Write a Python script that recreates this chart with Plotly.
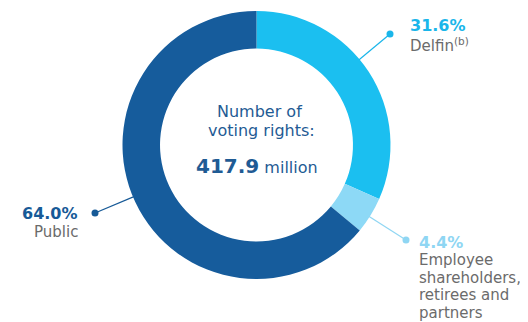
import math
import plotly.graph_objects as go

# ---- data ----
segments = ["Delfin", "Employee shareholders, retirees and partners", "Public"]
shares = [31.6, 4.4, 64.0]
pct_labels = ["31.6%", "4.4%", "64.0%"]
name_lines = [["Delfin<sup>(b)</sup>"], ["Employee", "shareholders,", "retirees and", "partners"], ["Public"]]
total_label = "417.9"
total_unit = "million"
center_title = ["Number of", "voting rights:"]

# ---- style ----
W, H = 528, 322
colors = ["#1bbff0", "#8dd9f6", "#165c9c"]
pct_colors = ["#1ab6ea", "#8fd6f3", "#175a97"]
gray = "#6b6b6b"
navy = "#1f5b94"
FONT = "DejaVu Sans"

cx, cy, R = 248.5, 137.0, 134.0  # ring geometry in pixels
hole = 0.72

fig = go.Figure()
fig.add_trace(go.Pie(
    labels=segments, values=shares, sort=False, direction="clockwise", rotation=0,
    hole=hole, marker=dict(colors=colors, line=dict(width=0)),
    textinfo="none", hoverinfo="label+percent", showlegend=False,
    domain=dict(x=[(cx - R) / W, (cx + R) / W], y=[(H - cy - R) / H, (H - cy + R) / H]),
))

# radial leader lines from the ring edge to a dot
dots = [(382, 26), (398, 232), (87, 205)]
for i, (dx, dy) in enumerate(dots):
    vx, vy = dx - cx, dy - cy
    L = math.hypot(vx, vy)
    sx, sy = cx + vx / L * (R - 1), cy + vy / L * (R - 1)
    fig.add_trace(go.Scatter(x=[sx, dx], y=[sy, dy], mode="lines",
                             line=dict(color=pct_colors[i], width=1.2),
                             hoverinfo="skip", showlegend=False))
    fig.add_trace(go.Scatter(x=[dx], y=[dy], mode="markers",
                             marker=dict(color=pct_colors[i], size=7),
                             hoverinfo="skip", showlegend=False))

ann = []
def add(text, x, y, size, color, xanchor="left", bold=False):
    ann.append(dict(text=f"<b>{text}</b>" if bold else text, x=x, y=y, xref="x", yref="y",
                    xanchor=xanchor, yanchor="middle", showarrow=False,
                    font=dict(family=FONT, size=size, color=color)))

PCT, TXT = 16, 15
# Delfin
add(pct_labels[0], 400, 17, PCT, pct_colors[0], bold=True)
add(name_lines[0][0], 400, 36.5, TXT, gray)
# Employee
add(pct_labels[1], 409, 234, PCT, pct_colors[1], bold=True)
for k, t in enumerate(name_lines[1]):
    add(t, 409, 252 + 17.5 * k, TXT, gray)
# Public
add(pct_labels[2], 72, 205, PCT, pct_colors[2], xanchor="right", bold=True)
add(name_lines[2][0], 72, 223.5, TXT, gray, xanchor="right")
# Center
add(center_title[0], 251, 103, 16, navy, xanchor="center")
add(center_title[1], 253, 122, 16, navy, xanchor="center")
add(f"<b><span style='font-size:20px'>{total_label}</span></b> {total_unit}", 249, 158, 16, navy, xanchor="center")

fig.update_layout(
    width=W, height=H, margin=dict(l=0, r=0, t=0, b=0),
    paper_bgcolor="white", plot_bgcolor="rgba(0,0,0,0)",
    xaxis=dict(range=[0, W], visible=False, fixedrange=True, domain=[0, 1]),
    yaxis=dict(range=[H, 0], visible=False, fixedrange=True, domain=[0, 1]),
    annotations=ann,
)
fig.write_html("out.html")
